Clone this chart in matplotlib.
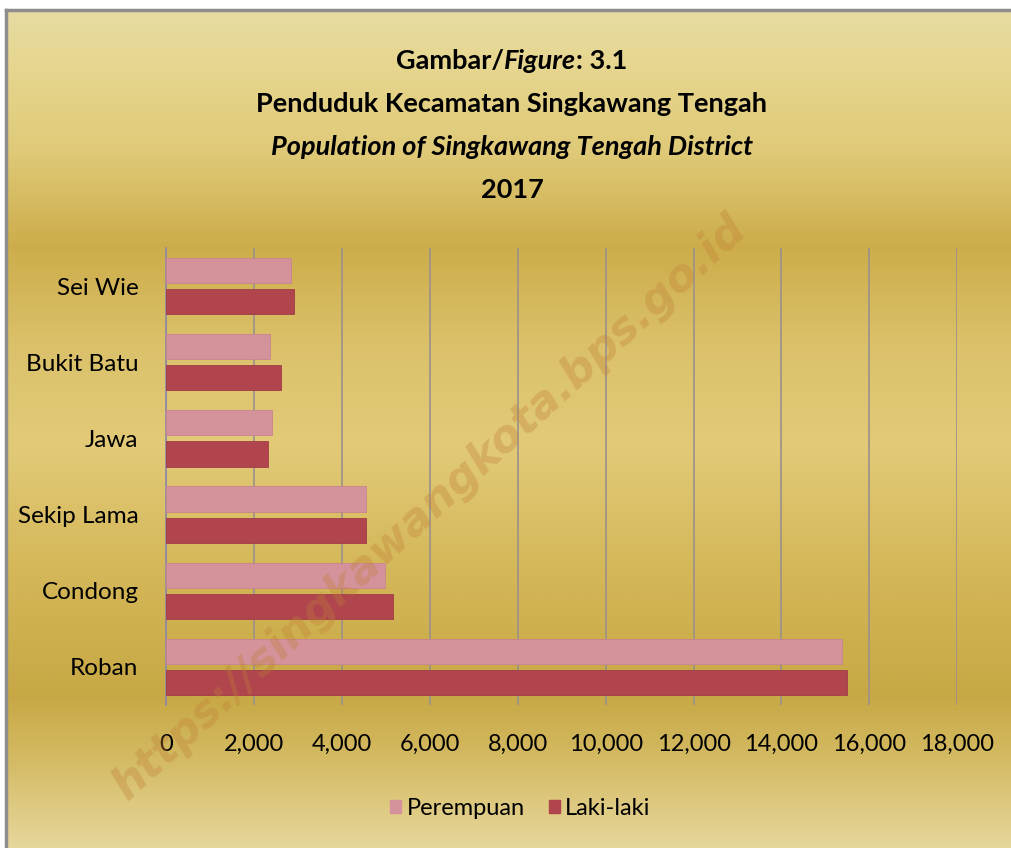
import numpy as np
import matplotlib
matplotlib.use("Agg")
import matplotlib.pyplot as plt
from matplotlib.colors import LinearSegmentedColormap
from matplotlib.patches import Rectangle
from matplotlib.lines import Line2D

# data (bottom to top)
villages = ["Roban", "Condong", "Sekip Lama", "Jawa", "Bukit Batu", "Sei Wie"]
perempuan = [15380, 4980, 4535, 2405, 2370, 2845]
laki_laki = [15495, 5165, 4540, 2305, 2615, 2905]
x_ticks = list(range(0, 18001, 2000))

font = ["Lato", "DejaVu Sans"]
pink = "#d4929b"
red = "#b0454e"

fig = plt.figure(figsize=(10.11, 8.48), dpi=100)

# gold gradient background
bg = fig.add_axes([0, 0, 1, 1], zorder=0)
bg.set_xlim(0, 1011)
bg.set_ylim(848, 0)
bg.axis("off")
stops = [(0.0, "#e7dba2"), (0.06, "#e6d690"), (0.16, "#e0cb7a"), (0.28, "#cdad4b"),
         (0.40, "#dbc16a"), (0.52, "#e2ca78"), (0.66, "#d5b85a"), (0.82, "#c8a845"),
         (0.90, "#d4bb64"), (1.0, "#e6d69a")]
cmap = LinearSegmentedColormap.from_list("gold", stops)
grad = np.linspace(0, 1, 400).reshape(-1, 1)
bg.imshow(grad, cmap=cmap, aspect="auto", extent=[6, 1011, 848, 10], zorder=0)
bg.add_patch(Rectangle((0, 0), 1011, 10, color="white", zorder=1))
bg.add_patch(Rectangle((0, 0), 6, 848, color="white", zorder=1))
bg.add_line(Line2D([6, 1011], [10, 10], color="#8e8e8e", lw=2.5, zorder=2))
bg.add_line(Line2D([6, 6], [10, 848], color="#8e8e8e", lw=2.5, zorder=2))

# titles
tsize = 19.5
first = [("Gambar/", "normal"), ("Figure", "italic"), (": 3.1", "normal")]
renderer = fig.canvas.get_renderer()
pieces = []
for txt, st in first:
    t = bg.text(0, 69, txt, ha="left", va="baseline", fontsize=tsize, fontweight="bold",
                style=st, family=font, zorder=3)
    pieces.append(t)
widths = [p.get_window_extent(renderer).width for p in pieces]
x0 = 512 - sum(widths) / 2
for p, w in zip(pieces, widths):
    p.set_x(x0)
    x0 += w
bg.text(512, 112, "Penduduk Kecamatan Singkawang Tengah", ha="center", va="baseline",
        fontsize=tsize, fontweight="bold", family=font, zorder=3)
bg.text(512, 155, "Population of Singkawang Tengah District", ha="center", va="baseline",
        fontsize=tsize, fontweight="bold", style="italic", family=font, zorder=3)
bg.text(512, 198, "2017", ha="center", va="baseline", fontsize=tsize, fontweight="bold",
        family=font, zorder=3)

ax = fig.add_axes([166.3 / 1011, 1 - 705 / 848, (957.2 - 166.3) / 1011, 457 / 848], zorder=1)
ax.patch.set_alpha(0)

y = np.arange(len(villages))
h = 0.33
ax.barh(y + 0.205, perempuan, height=h, color=pink, edgecolor="#c98490", lw=0.6, zorder=3)
ax.barh(y - 0.205, laki_laki, height=h, color=red, edgecolor="#a23c46", lw=0.6, zorder=3)

ax.set_xlim(0, 18000)
ax.set_ylim(-0.5, len(villages) - 0.5)
ax.set_xticks(x_ticks)
ax.set_xticklabels([f"{v:,}" for v in x_ticks], family=font, fontsize=17)
ax.set_yticks(y)
ax.set_yticklabels(villages, family=font, fontsize=17.5)
ax.tick_params(axis="x", length=0, pad=21)
ax.tick_params(axis="y", length=0, pad=20)
ax.grid(axis="x", color="#9a918c", lw=1.2, zorder=1)
for s in ["top", "right", "bottom"]:
    ax.spines[s].set_visible(False)
ax.spines["left"].set_color("#8f88a6")
ax.spines["left"].set_linewidth(1.2)

# legend
bg.add_patch(Rectangle((390, 800), 11, 13, color=pink, zorder=3))
bg.text(407, 815, "Perempuan", ha="left", va="baseline", fontsize=17, family=font, zorder=3)
bg.add_patch(Rectangle((549, 800), 11, 13, color=red, zorder=3))
bg.text(565, 815, "Laki-laki", ha="left", va="baseline", fontsize=17, family=font, zorder=3)

# watermark
wm = fig.add_axes([0, 0, 1, 1], zorder=5)
wm.axis("off")
wm.set_xlim(0, 1011)
wm.set_ylim(848, 0)
wm.text(430, 508, "https://singkawangkota.bps.go.id", ha="center", va="center", rotation=42.5,
        fontsize=32, fontweight="bold", style="italic", color="#c07e36", alpha=0.33,
        family="DejaVu Sans", rotation_mode="anchor")

fig.savefig("out.png", dpi=100)
